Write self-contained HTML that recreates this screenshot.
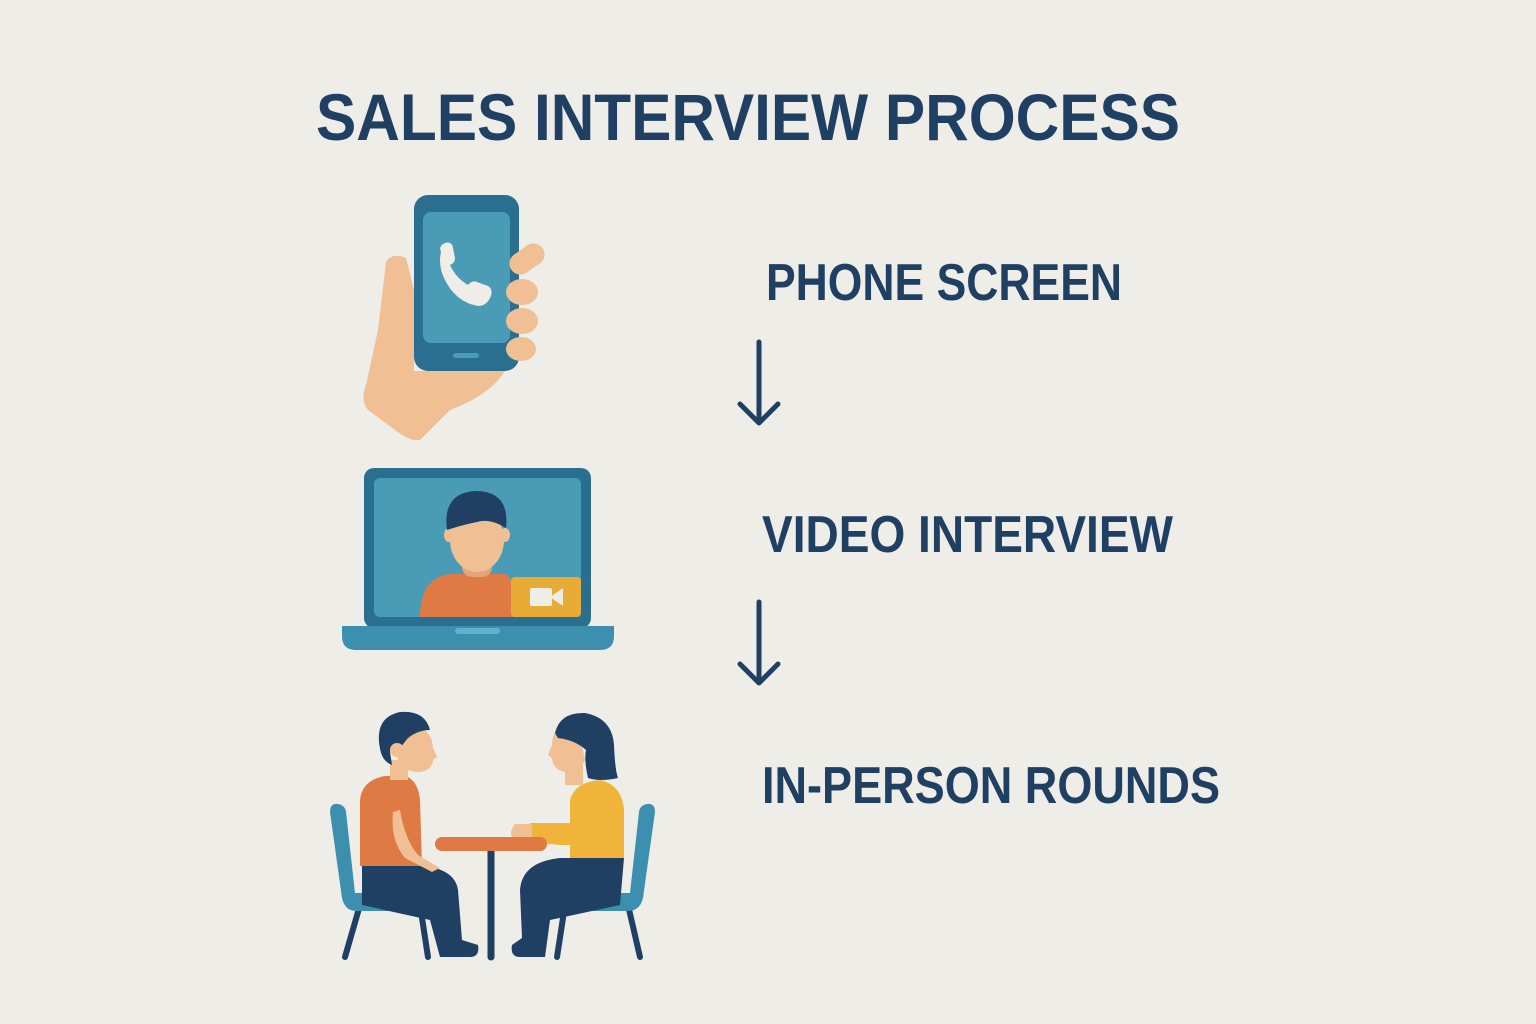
<!DOCTYPE html>
<html><head><meta charset="utf-8"><style>
html,body{margin:0;padding:0;background:#eeede7;}
svg{display:block;}
text{font-family:"Liberation Sans",sans-serif;font-weight:bold;fill:#1f3f63;}
</style></head><body>
<svg width="1536" height="1024" viewBox="0 0 1536 1024">
<rect width="1536" height="1024" fill="#eeede7"/>
<text x="316" y="140" font-size="66" textLength="864" lengthAdjust="spacingAndGlyphs">SALES INTERVIEW PROCESS</text>
<text x="766" y="300" font-size="52" textLength="356" lengthAdjust="spacingAndGlyphs">PHONE SCREEN</text>
<text x="762" y="552" font-size="52" textLength="411" lengthAdjust="spacingAndGlyphs">VIDEO INTERVIEW</text>
<text x="762" y="803" font-size="52" textLength="458" lengthAdjust="spacingAndGlyphs">IN-PERSON ROUNDS</text>
<g stroke="#1f3f63" stroke-width="5" fill="none" stroke-linecap="round" stroke-linejoin="round">
<path d="M759 342 V423 M740 404 L759 423 L778 404"/>
<path d="M759 602 V683 M740 664 L759 683 L778 664"/>
</g>
<!-- hand -->
<path d="M386 262 Q392 252 406 258 L414 290 V371 H505 Q490 395 450 410 L420 440 Q410 442 395 430 L368 410 Q360 400 366 385 L378 330 Z" fill="#f0bf94"/>
<!-- phone -->
<rect x="414" y="195" width="105" height="176" rx="14" fill="#2a6f8f"/>
<rect x="423" y="212" width="87" height="131" rx="8" fill="#4a9bb5"/>
<rect x="453" y="353" width="26" height="5" rx="2.5" fill="#4a9bb5"/>
<path d="M441 252 Q438 246 445 243 Q452 241 453 248 L455 258 Q455 263 450 265 Q456 278 468 285 Q472 280 477 282 L488 286 Q494 290 490 298 Q486 306 478 306 Q455 302 444 278 Q438 265 441 252 Z" fill="#eeede7"/>
<!-- fingers -->
<g fill="#f0bf94">
<rect x="508" y="248" width="38" height="22" rx="11" transform="rotate(-35 527 259)"/>
<ellipse cx="522" cy="292" rx="16" ry="13"/>
<ellipse cx="522" cy="321" rx="16" ry="13"/>
<ellipse cx="521" cy="349" rx="15" ry="12"/>
</g>
<!-- laptop -->
<rect x="364" y="468" width="227" height="160" rx="10" fill="#2a6f8f"/>
<rect x="374" y="478" width="207" height="139" rx="6" fill="#4a9bb5"/>
<path d="M342 626 H614 V636 Q614 650 600 650 H356 Q342 650 342 636 Z" fill="#3d8fb0"/>
<rect x="455" y="628" width="45" height="6" rx="3" fill="#5fb2cc"/>
<path d="M420 617 Q420 578 450 574 H505 Q515 576 515 617 Z" fill="#e07a45"/>
<rect x="462" y="555" width="30" height="22" rx="10" fill="#e3a57c"/>
<ellipse cx="477" cy="540" rx="27" ry="32" fill="#f0bf94"/>
<ellipse cx="449" cy="535" rx="5" ry="7" fill="#f0bf94"/>
<ellipse cx="505" cy="535" rx="5" ry="7" fill="#f0bf94"/>
<path d="M447 530 Q442 492 477 491 Q510 492 506 528 Q490 518 477 522 Q462 525 447 530 Z" fill="#1f3f63"/>
<rect x="511" y="577" width="70" height="40" rx="4" fill="#e8ab35"/>
<rect x="530" y="588" width="22" height="18" rx="2" fill="#eeede7"/>
<path d="M550 597 L563 588 V606 Z" fill="#eeede7"/>
<!-- chairs -->
<g stroke="#1f3f63" stroke-width="6" stroke-linecap="round">
<line x1="360" y1="905" x2="345" y2="957"/><line x1="420" y1="905" x2="428" y2="957"/>
<line x1="565" y1="905" x2="557" y2="957"/><line x1="628" y1="905" x2="640" y2="957"/>
<line x1="491" y1="845" x2="491" y2="957" stroke-width="7"/>
</g>
<path d="M330 812 Q330 803 338 804 Q345 805 346 812 L355 893 H428 Q432 893 432 900 V905 Q432 911 426 911 H356 Q345 911 342 898 Z" fill="#3d8fb0"/>
<path d="M655 812 Q655 803 647 804 Q640 805 639 812 L630 893 H560 Q554 893 554 900 V905 Q554 911 560 911 H628 Q640 911 643 898 Z" fill="#3d8fb0"/>
<!-- man -->
<path d="M362 866 H425 Q455 870 458 890 L462 940 L478 945 Q480 957 470 957 H440 L430 920 L362 905 Z" fill="#1f3f63"/>
<path d="M360 866 V800 Q362 780 385 776 H405 Q418 780 420 800 L422 866 Z" fill="#e07a45"/>
<path d="M400 810 Q405 840 418 855 L440 868 L432 872 L405 858 Q390 840 393 812 Z" fill="#f0bf94"/>
<rect x="390" y="760" width="18" height="20" fill="#f0bf94"/>
<path d="M395 740 Q400 725 420 728 Q432 732 433 748 L437 757 L433 760 Q432 770 420 772 Q403 772 398 760 Z" fill="#f0bf94"/>
<path d="M381 753 Q372 718 400 712 Q425 710 430 730 Q418 730 408 738 L400 748 Q393 745 390 752 L392 765 Q384 762 381 753 Z" fill="#1f3f63"/>
<circle cx="397" cy="750" r="7" fill="#f0bf94"/>
<!-- woman -->
<path d="M624 858 H560 Q522 862 520 890 L522 938 L512 945 Q510 957 520 957 H545 L550 920 L620 905 Z" fill="#1f3f63"/>
<path d="M570 858 V800 Q575 782 600 780 Q622 785 624 810 V858 Z" fill="#f0b43a"/>
<path d="M530 823 H585 Q600 830 598 845 L560 845 L530 842 Z" fill="#f0b43a"/>
<path d="M515 824 H532 V842 H515 Q507 833 515 824 Z" fill="#f0bf94"/>
<rect x="565" y="765" width="18" height="20" fill="#f0bf94"/>
<path d="M580 737 Q575 725 560 728 Q552 732 552 745 L548 755 L552 758 Q553 770 565 772 Q580 772 585 760 Z" fill="#f0bf94"/>
<path d="M555 733 Q560 712 585 713 Q612 718 614 745 Q615 770 618 778 Q600 782 588 778 Q584 760 586 750 Q575 740 558 738 Z" fill="#1f3f63"/>
<!-- table -->
<rect x="435" y="837" width="112" height="14" rx="7" fill="#e07a45"/>
</svg>
</body></html>
